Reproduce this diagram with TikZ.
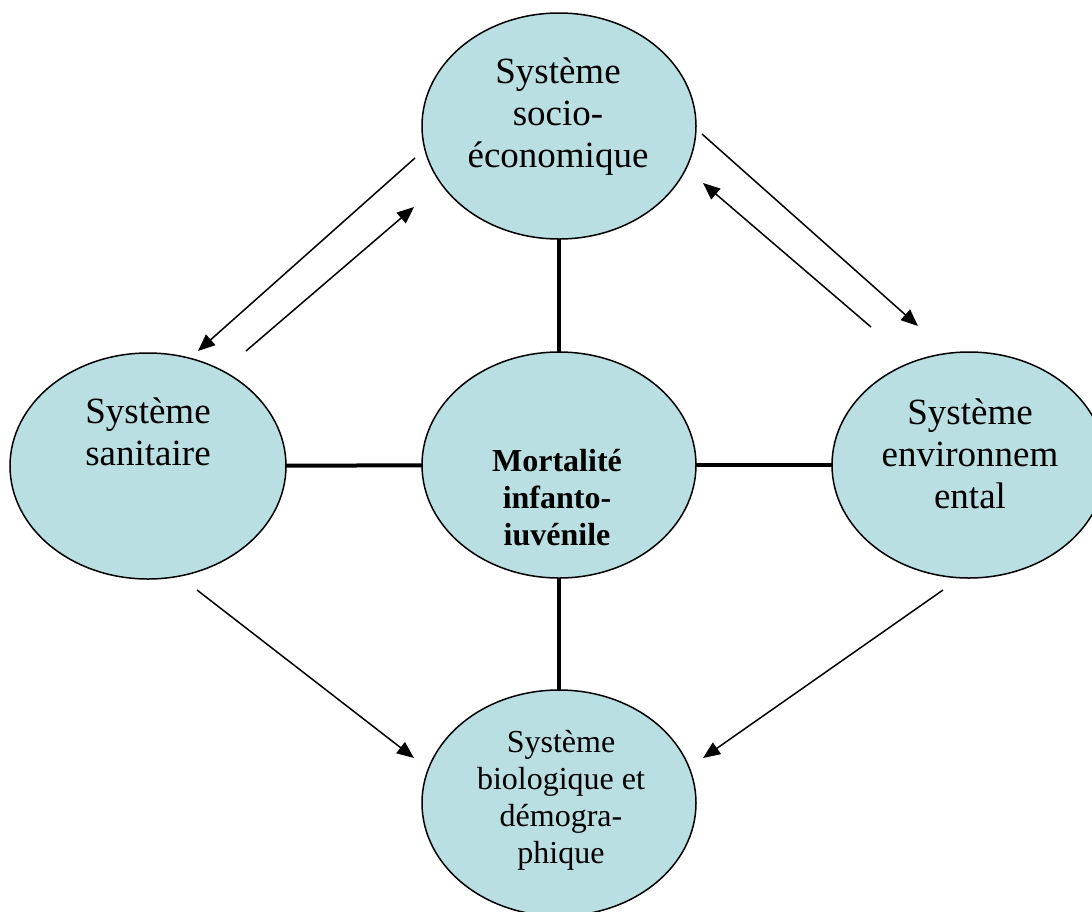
\documentclass[tikz,border=0pt]{standalone}
\usepackage{fontspec}
\setmainfont{Liberation Serif}
\usetikzlibrary{shapes.geometric,arrows.meta}
\definecolor{sysblue}{RGB}{186,223,227}

\begin{document}
\begin{tikzpicture}[x=1pt,y=-1pt]

% Fix the frame of the picture
\useasboundingbox (0,0) rectangle (1092,911);

% Define styles for systems, texts and links
\tikzstyle{systeme} = [ellipse, draw=black, line width=1.5pt, fill=sysblue, minimum width=274pt, minimum height=226pt, inner sep=0pt, outer sep=0pt]
\tikzstyle{grand} = [align=center, font=\fontsize{37}{42}\selectfont]
\tikzstyle{petit} = [align=center, font=\fontsize{32}{37}\selectfont]
\tikzstyle{lien} = [line width=4pt]
\tikzstyle{fleche} = [line width=1.5pt, -{Triangle[length=17pt,width=14pt]}]

% Ellipses
\node[systeme] (socio) at (559,126) {};
\node[systeme, minimum width=276pt] (sanit) at (148,466) {};
\node[systeme] (mort) at (559,465) {};
\node[systeme] (envir) at (969,465) {};
\node[systeme] (bio) at (559,803) {};

% Texts
\node[grand] (socio-t) at (558,117) {Système\\socio-\\économique};
\node[grand] (sanit-t) at (148,432) {Système\\sanitaire};
\node[grand] (envir-t) at (970,454) {Système\\environnem\\ental};
\node[petit, font=\bfseries\fontsize{32}{37}\selectfont] (mort-t) at (557,498) {Mortalité\\infanto-\\iuvénile};
\node[petit] (bio-t) at (561,800) {Système\\biologique et\\démogra-\\phique};

% Links with the centre
\draw[lien] (socio) -- (mort);
\draw[lien] (sanit) -- (mort);
\draw[lien] (envir) -- (mort);
\draw[lien] (bio) -- (mort);

% Ends of the arrows
\coordinate (a1) at (415,158);
\coordinate (a2) at (198,351);
\coordinate (b1) at (246,351);
\coordinate (b2) at (414,207);
\coordinate (c1) at (702,134);
\coordinate (c2) at (918,326);
\coordinate (d1) at (871,327);
\coordinate (d2) at (703,183);
\coordinate (e1) at (197,590);
\coordinate (e2) at (414,758);
\coordinate (f1) at (943,590);
\coordinate (f2) at (703,758);

% Arrows
\draw[fleche] (a1) -- (a2);
\draw[fleche] (b1) -- (b2);
\draw[fleche] (c1) -- (c2);
\draw[fleche] (d1) -- (d2);
\draw[fleche] (e1) -- (e2);
\draw[fleche] (f1) -- (f2);

\end{tikzpicture}
\end{document}
